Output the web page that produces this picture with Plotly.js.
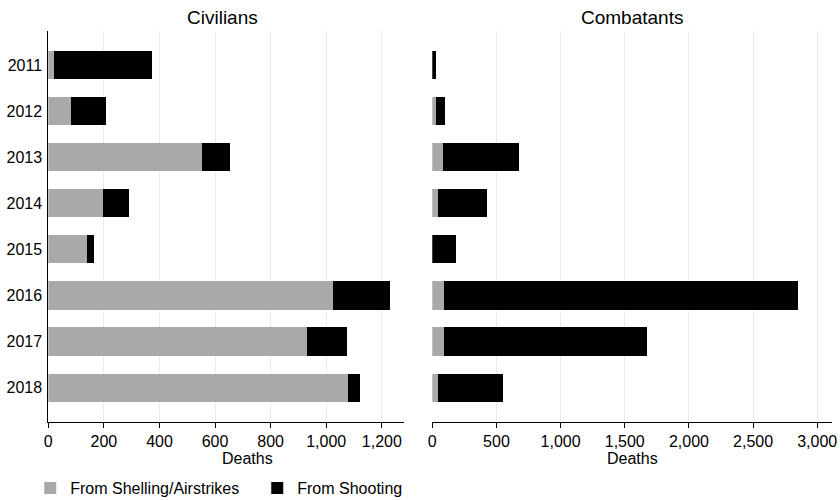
<!DOCTYPE html>
<html>
<head>
<meta charset="utf-8">
<script src="https://cdn.plot.ly/plotly-3.0.1.min.js"></script>
<style>html,body{margin:0;padding:0;background:#fff;}#chart{width:840px;height:500px;}</style>
</head>
<body>
<div id="chart"></div>
<script>
const years = ['2011','2012','2013','2014','2015','2016','2017','2018'];
const civShelling = [20, 82, 553, 197, 139, 1024, 930, 1077];
const civShooting = [352, 124, 100, 93, 25, 207, 144, 44];
const comShelling = [0, 26, 83, 44, 0, 91, 91, 44];
const comShooting = [31, 73, 593, 382, 185, 2759, 1582, 505];
const civTicks = [0, 200, 400, 600, 800, 1000, 1200];
const comTicks = [0, 500, 1000, 1500, 2000, 2500, 3000];

const grey = '#a9a9a9';
const black = '#000000';
const font = 'Liberation Sans, Arial, Helvetica, sans-serif';

const traces = [
  {type:'bar', orientation:'h', y:years, x:civShelling, name:'From Shelling/Airstrikes',
   marker:{color:grey}, xaxis:'x', yaxis:'y', legendgroup:'a'},
  {type:'bar', orientation:'h', y:years, x:civShooting, name:'From Shooting',
   marker:{color:black}, xaxis:'x', yaxis:'y', legendgroup:'b'},
  {type:'bar', orientation:'h', y:years, x:comShelling, name:'From Shelling/Airstrikes',
   marker:{color:grey}, xaxis:'x2', yaxis:'y2', legendgroup:'a', showlegend:false},
  {type:'bar', orientation:'h', y:years, x:comShooting, name:'From Shooting',
   marker:{color:black}, xaxis:'x2', yaxis:'y2', legendgroup:'b', showlegend:false}
];

const xCommon = {
  showgrid:true, gridcolor:'#ebebeb', gridwidth:1, zeroline:false,
  showline:true, linecolor:'#000', linewidth:1,
  ticks:'outside', ticklen:5, tickcolor:'#000', tickwidth:1,
  tickfont:{size:16, color:'#000', family:font}, separatethousands:true,
  tickformat:',d', fixedrange:true, automargin:false
};

const layout = {
  width:840, height:500,
  margin:{l:0, r:0, t:0, b:0, autoexpand:false},
  paper_bgcolor:'#fff', plot_bgcolor:'#fff',
  font:{family:font, color:'#000', size:16},
  barmode:'stack', bargap:0.39,
  showlegend:true,
  legend:{orientation:'h', x:0.036, xanchor:'left', y:1-488/500, yanchor:'middle',
    font:{size:16, family:font, color:'#000'}, traceorder:'normal',
    entrywidth:182, entrywidthmode:'pixels', itemclick:false, itemdoubleclick:false},
  xaxis: Object.assign({}, xCommon, {domain:[0.0575, 0.481], range:[0, 1280],
    tickvals:civTicks, anchor:'y'}),
  yaxis:{domain:[0.1566, 0.938], type:'category', range:[7.74, -0.74],
    showgrid:false, zeroline:false, showline:true, linecolor:'#000', linewidth:1,
    ticks:'', tickfont:{size:16, color:'#000', family:font}, ticklabelstandoff:2,
    anchor:'x', automargin:false},
  xaxis2: Object.assign({}, xCommon, {domain:[0.5146, 0.990], range:[0, 3112],
    tickvals:comTicks, anchor:'y2'}),
  yaxis2:{domain:[0.1566, 0.938], type:'category', range:[7.74, -0.74],
    showgrid:false, zeroline:false, showline:false, showticklabels:false,
    ticks:'', anchor:'x2', automargin:false},
  annotations:[
    {text:'Civilians', xref:'paper', yref:'paper', x:222/840, y:1-17/500,
     xanchor:'center', yanchor:'middle', showarrow:false, font:{size:19, family:font, color:'#000'}},
    {text:'Combatants', xref:'paper', yref:'paper', x:632/840, y:1-17/500,
     xanchor:'center', yanchor:'middle', showarrow:false, font:{size:19, family:font, color:'#000'}},
    {text:'Deaths', xref:'paper', yref:'paper', x:247/840, y:1-458/500,
     xanchor:'center', yanchor:'middle', showarrow:false, font:{size:16, family:font, color:'#000'}},
    {text:'Deaths', xref:'paper', yref:'paper', x:632/840, y:1-458/500,
     xanchor:'center', yanchor:'middle', showarrow:false, font:{size:16, family:font, color:'#000'}}
  ]
};

Plotly.newPlot('chart', traces, layout, {displayModeBar:false, staticPlot:true});
</script>
</body>
</html>
